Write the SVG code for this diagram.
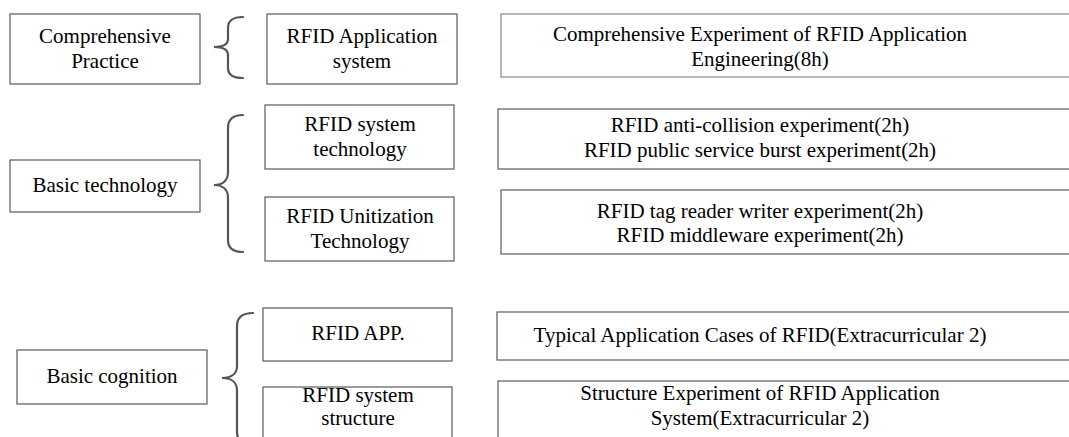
<svg xmlns="http://www.w3.org/2000/svg" width="1069" height="437" viewBox="0 0 1069 437">
<rect width="1069" height="437" fill="#fff"/>
<g id="connectors" fill="none" stroke="#555" stroke-width="2.2" stroke-linecap="round">
<path d="M243,17 C233,17 228,20 228,28 L228,39 C228,45 222,47 214,47 C222,47 228,49 228,55 L228,68 C228,75 233,78 243,78"/>
<path d="M243,115 C233,115 228,119 228,128 L228,172 C228,181 222,185 214,185 C222,185 228,189 228,198 L228,240 C228,248 233,252 243,252"/>
<path d="M253,313 C243,313 237,317 237,326 L237,366 C237,374 231,378 222,378 C231,378 237,382 237,390 L237,432 C237,440 243,444 253,444"/>
</g>
<g font-family="Liberation Serif" font-size="21" text-anchor="middle">
<g id="comprehensive-practice"><rect fill="#fff" stroke="#5a5a5a" stroke-width="1.2" x="10" y="14" width="190" height="70"/><text x="105" y="43">Comprehensive</text><text x="105" y="68">Practice</text></g>
<g id="rfid-application-system"><rect fill="#fff" stroke="#5a5a5a" stroke-width="1.2" x="267" y="14" width="190" height="70"/><text x="362" y="43">RFID Application</text><text x="362" y="68">system</text></g>
<g id="exp-comprehensive"><rect fill="#fff" stroke="#888" stroke-width="1.2" x="501" y="14" width="580" height="63"/><text x="760" y="41">Comprehensive Experiment of RFID Application</text><text x="760" y="66">Engineering(8h)</text></g>
<g id="basic-technology"><rect fill="#fff" stroke="#5a5a5a" stroke-width="1.2" x="10" y="160" width="190" height="52"/><text x="105" y="192">Basic technology</text></g>
<g id="rfid-system-technology"><rect fill="#fff" stroke="#5a5a5a" stroke-width="1.2" x="265" y="105" width="189" height="64"/><text x="360" y="131">RFID system</text><text x="360" y="156">technology</text></g>
<g id="rfid-unitization-technology"><rect fill="#fff" stroke="#5a5a5a" stroke-width="1.2" x="265" y="197" width="189" height="64"/><text x="360" y="223">RFID Unitization</text><text x="360" y="248">Technology</text></g>
<g id="exp-system"><rect fill="#fff" stroke="#5a5a5a" stroke-width="1.2" x="498" y="109" width="580" height="60"/><text x="760" y="132">RFID anti-collision experiment(2h)</text><text x="760" y="157">RFID public service burst experiment(2h)</text></g>
<g id="exp-unit"><rect fill="#fff" stroke="#5a5a5a" stroke-width="1.2" x="501" y="190" width="580" height="64"/><text x="760" y="218">RFID tag reader writer experiment(2h)</text><text x="760" y="242">RFID middleware experiment(2h)</text></g>
<g id="basic-cognition"><rect fill="#fff" stroke="#5a5a5a" stroke-width="1.2" x="17" y="350" width="190" height="54"/><text x="112" y="383">Basic cognition</text></g>
<g id="rfid-app"><rect fill="#fff" stroke="#5a5a5a" stroke-width="1.2" x="263" y="308" width="189" height="53"/><text x="358" y="340">RFID APP.</text></g>
<g id="rfid-system-structure"><rect fill="#fff" stroke="#5a5a5a" stroke-width="1.2" x="263" y="387" width="189" height="60"/><text x="358" y="402">RFID system</text><text x="358" y="425">structure</text></g>
<g id="exp-cases"><rect fill="#fff" stroke="#5a5a5a" stroke-width="1.2" x="497" y="312" width="580" height="48"/><text x="760" y="342">Typical Application Cases of RFID(Extracurricular 2)</text></g>
<g id="exp-structure"><rect fill="#fff" stroke="#5a5a5a" stroke-width="1.2" x="498" y="381" width="580" height="66"/><text x="760" y="400">Structure Experiment of RFID Application</text><text x="760" y="425">System(Extracurricular 2)</text></g>
</g>
</svg>
